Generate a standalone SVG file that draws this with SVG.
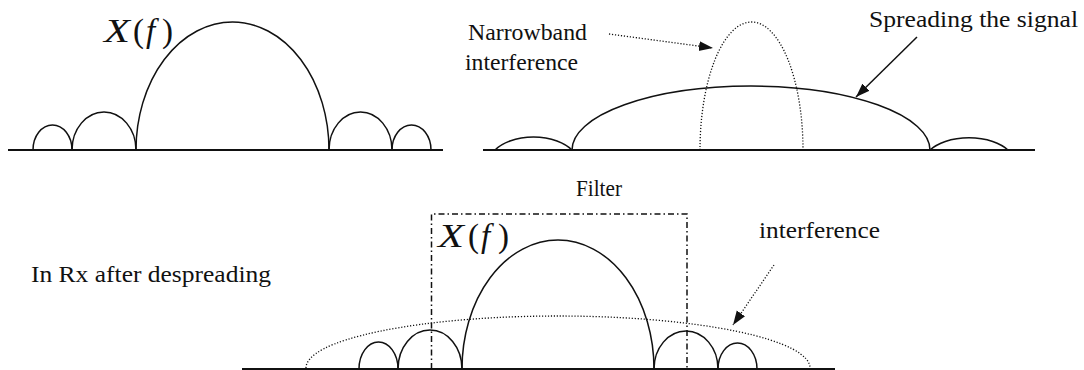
<svg xmlns="http://www.w3.org/2000/svg" width="1084" height="370" viewBox="0 0 1084 370">
  <style>
    .ax { fill: none; stroke: #111; stroke-width: 2; }
    .lobe { fill: none; stroke: #111; stroke-width: 1.5; }
    .dot { fill: none; stroke: #111; stroke-width: 1.3; stroke-dasharray: 1.2 1.8; }
    .dashdot { fill: none; stroke: #111; stroke-width: 1.5; stroke-dasharray: 6 3 1.5 3; }
    .arrow { fill: none; stroke: #111; stroke-width: 1.5; }
    text { font-family: "Liberation Serif", "Times New Roman", Tinos, "Noto Serif", serif; fill: #111; }
    .lbl { font-size: 23px; }
    .math { font-size: 33px; }
    .it { font-style: italic; }
  </style>
  <defs>
    <marker id="ah" markerUnits="userSpaceOnUse" markerWidth="15" markerHeight="11" refX="14" refY="5" orient="auto">
      <path d="M0,0 L14,5 L0,10 z" fill="#111" stroke="none"/>
    </marker>
  </defs>

  <g id="spectrum-original">
    <path class="ax" d="M8,150 H443"/>
    <path class="lobe" d="M33,150 A19.5,25 0 0 1 72,150"/>
    <path class="lobe" d="M72,150 A32,38 0 0 1 136,150"/>
    <path class="lobe" d="M136,150 A96.5,128 0 0 1 329,150"/>
    <path class="lobe" d="M329,150 A31.5,38 0 0 1 392,150"/>
    <path class="lobe" d="M392,150 A19.5,25 0 0 1 431,150"/>
    <text class="math" font-family="Liberation Serif, serif" y="42"><tspan class="it" x="104" textLength="26" lengthAdjust="spacingAndGlyphs">X</tspan><tspan x="133">(</tspan><tspan class="it" x="146">f</tspan><tspan x="162">)</tspan></text>
  </g>

  <g id="spectrum-spread">
    <path class="ax" d="M483,150 H1035"/>
    <path class="lobe" d="M495,150 A45,27 0 0 1 572,150"/>
    <path class="lobe" d="M572,150 A179,64 0 0 1 930,150"/>
    <path class="lobe" d="M930,150 A46,26 0 0 1 1008,150"/>
    <path class="dot" d="M700,150 A51.5,128 0 0 1 803,150"/>
    <text class="lbl" font-family="Liberation Serif, serif" x="468" y="40" textLength="119" lengthAdjust="spacingAndGlyphs">Narrowband</text>
    <text class="lbl" font-family="Liberation Serif, serif" x="465" y="70" textLength="113" lengthAdjust="spacingAndGlyphs">interference</text>
    <text class="lbl" font-family="Liberation Serif, serif" x="869" y="27" textLength="209" lengthAdjust="spacingAndGlyphs">Spreading the signal</text>
  </g>

  <g id="spectrum-despread">
    <path class="ax" d="M242,369 H835"/>
    <path class="lobe" d="M359,369 A19.5,27 0 0 1 398,369"/>
    <path class="lobe" d="M398,369 A32,39 0 0 1 462,369"/>
    <path class="lobe" d="M462,369 A96,129 0 0 1 654,369"/>
    <path class="lobe" d="M654,369 A32,38 0 0 1 718,369"/>
    <path class="lobe" d="M718,369 A19.5,26 0 0 1 757,369"/>
    <path class="dot" d="M306,368 A252,52 0 0 1 810,368"/>
    <text class="math" font-family="Liberation Serif, serif" y="247"><tspan class="it" x="438" textLength="26" lengthAdjust="spacingAndGlyphs">X</tspan><tspan x="468">(</tspan><tspan class="it" x="481">f</tspan><tspan x="498">)</tspan></text>
    <text class="lbl" font-family="Liberation Serif, serif" x="759" y="238" textLength="121" lengthAdjust="spacingAndGlyphs">interference</text>
    <text class="lbl" font-family="Liberation Serif, serif" x="31" y="282" textLength="240" lengthAdjust="spacingAndGlyphs">In Rx after despreading</text>
  </g>

  <g id="filter">
    <path class="dashdot" d="M431.5,369 V214 H687 V369"/>
    <text class="lbl" font-family="Liberation Serif, serif" x="576" y="196" textLength="46" lengthAdjust="spacingAndGlyphs">Filter</text>
  </g>

  <g id="connectors">
    <path class="dot" d="M609,34 L713,48" marker-end="url(#ah)"/>
    <path class="arrow" d="M917,37 L856,97" marker-end="url(#ah)"/>
    <path class="dot" d="M774,265 L733,325" marker-end="url(#ah)"/>
  </g>
</svg>
